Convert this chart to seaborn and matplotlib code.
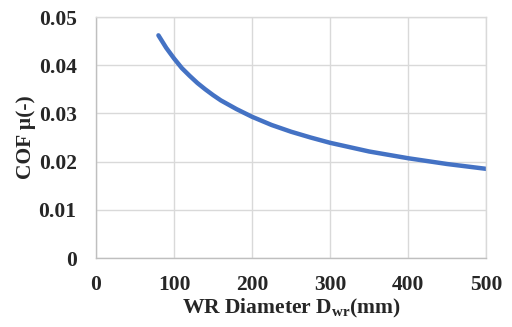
import matplotlib
matplotlib.use("Agg")
import matplotlib.pyplot as plt
import seaborn as sns
import pandas as pd

diameter = [80, 85, 90, 95, 100, 110, 120, 130, 140, 150, 160, 170, 180, 200,
            225, 250, 275, 300, 350, 400, 450, 500]
cof = [0.0462, 0.0449, 0.0436, 0.0425, 0.0414, 0.0394, 0.0378, 0.0363, 0.0350,
       0.0338, 0.0327, 0.0318, 0.0309, 0.0293, 0.0276, 0.0262, 0.0250, 0.0239,
       0.0221, 0.0207, 0.0195, 0.0185]
x_ticks = [0, 100, 200, 300, 400, 500]
y_ticks = [0, 0.01, 0.02, 0.03, 0.04, 0.05]
y_labels = ["0", "0.01", "0.02", "0.03", "0.04", "0.05"]

sns.set_theme(style="white")
plt.rcParams['font.family'] = ['Liberation Serif', 'DejaVu Serif']
plt.rcParams['font.weight'] = 'bold'
plt.rcParams['mathtext.fontset'] = 'custom'
plt.rcParams['mathtext.rm'] = 'Liberation Serif:bold'
plt.rcParams['mathtext.it'] = 'Liberation Serif:bold'
plt.rcParams['mathtext.bf'] = 'Liberation Serif:bold'
plt.rcParams['mathtext.default'] = 'rm'

df = pd.DataFrame({"D": diameter, "COF": cof})

fig = plt.figure(figsize=(5.12, 3.27), dpi=100)
ax = fig.add_axes([0.1875, 0.211, 0.762, 0.737])
sns.lineplot(data=df, x="D", y="COF", ax=ax, color="#4472C4", linewidth=3.2,
             solid_capstyle="round", solid_joinstyle="round")

ax.set_xlim(0, 500)
ax.set_ylim(0, 0.05)
ax.set_xticks(x_ticks)
ax.set_xticklabels([str(v) for v in x_ticks])
ax.set_yticks(y_ticks)
ax.set_yticklabels(y_labels)
ax.grid(True, color="#D9D9D9", linewidth=1)
for s in ax.spines.values():
    s.set_color("#D9D9D9")
    s.set_linewidth(1)
ax.spines['left'].set_color("#BFBFBF")
ax.spines['bottom'].set_color("#BFBFBF")
ax.tick_params(axis='y', length=0, labelsize=15.5, pad=14)
ax.tick_params(axis='x', length=0, labelsize=15.5, pad=12)
for lab in ax.get_xticklabels() + ax.get_yticklabels():
    lab.set_fontweight('bold')
ax.set_xlabel(r"WR Diameter D$_{wr}$(mm)", fontsize=15.5, fontweight='bold', labelpad=2)
ax.set_ylabel(r"COF μ(-)", fontsize=15.5, fontweight='bold', labelpad=2)

fig.savefig("out.png", dpi=100)
